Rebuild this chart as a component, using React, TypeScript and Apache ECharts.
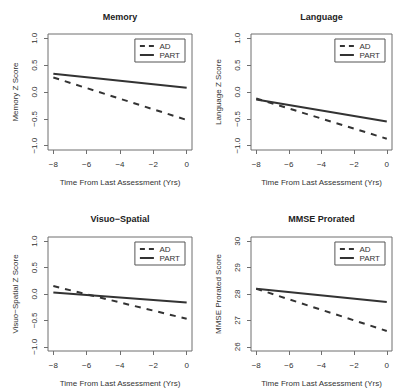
import React, { useEffect, useRef } from "react";
import * as echarts from "echarts";

const years = [-8, 0];
const xTicks = [-8, -6, -4, -2, 0];
const zTicks = [-1, -0.5, 0, 0.5, 1];
const mmseTicks = [26, 27, 28, 29, 30];

const panelTitles = ["Memory", "Language", "Visuo\u2212Spatial", "MMSE Prorated"];
const yTitles = ["Memory Z Score", "Language Z Score", "Visuo\u2212Spatial Z Score", "MMSE Prorated Score"];
const xTitle = "Time From Last Assessment (Yrs)";
const groups = ["AD", "PART"];

const memoryAD = [0.27, -0.52];
const memoryPART = [0.34, 0.08];
const languageAD = [-0.12, -0.87];
const languagePART = [-0.14, -0.55];
const visuoAD = [0.15, -0.47];
const visuoPART = [0.03, -0.16];
const mmseAD = [28.2, 26.6];
const mmsePART = [28.2, 27.7];

const panelAD = [memoryAD, languageAD, visuoAD, mmseAD];
const panelPART = [memoryPART, languagePART, visuoPART, mmsePART];
const panelYTicks = [zTicks, zTicks, zTicks, mmseTicks];

const TEXT = "#333";
const LINE = "#333";
const FRAME = "#6f6f6f";
const FONT = "Liberation Sans, Arial, sans-serif";

const grids = [
  { left: 48, top: 34, width: 144, height: 116 },
  { left: 251, top: 34, width: 141, height: 116 },
  { left: 48, top: 237, width: 144, height: 114 },
  { left: 251, top: 237, width: 141, height: 114 },
];

const dashedIcon = "path://M0,0h5v2h-5zM9,0h5v2h-5z";
const solidIcon = "path://M0,0h14v2h-14z";

const fmtMinus = (v: number, digits: number) => {
  const s = v.toFixed(digits);
  return s.replace("-", "\u2212");
};

function pad(ticks: number[]) {
  const lo = ticks[0];
  const hi = ticks[ticks.length - 1];
  const ext = (hi - lo) * 0.04;
  return [lo - ext, hi + ext];
}

export default function App() {
  const ref = useRef<HTMLDivElement>(null);
  useEffect(() => {
    if (!ref.current) return;
    const chart = echarts.init(ref.current, undefined, { renderer: "svg" });
    const [xMin, xMax] = pad(xTicks);

    const option: any = {
      animation: false,
      backgroundColor: "#fff",
      textStyle: { fontFamily: FONT, color: TEXT },
      title: grids.map((g, i) => ({
        text: panelTitles[i],
        left: g.left + g.width / 2,
        top: i < 2 ? 12 : 214,
        textAlign: "center",
        padding: 0,
        textStyle: { fontSize: 9, fontWeight: "bold", color: "#222", fontFamily: FONT },
      })),
      grid: grids.map((g) => ({
        ...g,
        show: true,
        borderColor: FRAME,
        borderWidth: 1,
        backgroundColor: "transparent",
        containLabel: false,
      })),
      legend: grids.map((g) => ({
        data: [
          { name: groups[0], icon: dashedIcon },
          { name: groups[1], icon: solidIcon },
        ],
        orient: "vertical",
        right: 393 - (g.left + g.width) + 7,
        top: g.top + 5,
        itemWidth: 15,
        itemHeight: 2,
        itemGap: 1,
        padding: [3, 5, 3, 5],
        borderColor: "#555",
        borderWidth: 1,
        borderRadius: 0,
        backgroundColor: "#fff",
        itemStyle: { color: LINE, borderWidth: 0 },
        textStyle: { fontSize: 8, color: TEXT, fontFamily: FONT },
        selectedMode: false,
      })),
      xAxis: grids.map((g, i) => ({
        type: "value",
        gridIndex: i,
        min: xMin,
        max: xMax,
        axisLine: { show: false, onZero: false },
        axisTick: {
          show: true,
          customValues: xTicks,
          length: 4,
          lineStyle: { color: FRAME },
        },
        axisLabel: {
          customValues: xTicks,
          fontSize: 8,
          margin: 10,
          color: TEXT,
          fontFamily: FONT,
          formatter: (v: number) => fmtMinus(v, 0),
        },
        splitLine: { show: false },
        name: xTitle,
        nameLocation: "middle",
        nameGap: 28,
        nameTextStyle: { fontSize: 8, color: TEXT, fontFamily: FONT },
      })),
      yAxis: grids.map((g, i) => {
        const ticks = panelYTicks[i];
        const [lo, hi] = pad(ticks);
        const digits = i < 3 ? 1 : 0;
        return {
          type: "value",
          gridIndex: i,
          min: lo,
          max: hi,
          axisLine: { show: false, onZero: false },
          axisTick: {
            show: true,
            customValues: ticks,
            length: 4,
            lineStyle: { color: FRAME },
          },
          axisLabel: {
            customValues: ticks,
            fontSize: 8,
            margin: 10,
            rotate: 90,
            color: TEXT,
            fontFamily: FONT,
            formatter: (v: number) => fmtMinus(v, digits),
          },
          splitLine: { show: false },
          name: yTitles[i],
          nameLocation: "middle",
          nameGap: 29,
          nameRotate: 90,
          nameTextStyle: { fontSize: 8, color: TEXT, fontFamily: FONT },
        };
      }),
      series: grids.flatMap((g, i) => [
        {
          name: "AD",
          type: "line",
          xAxisIndex: i,
          yAxisIndex: i,
          data: years.map((x, k) => [x, panelAD[i][k]]),
          symbol: "none",
          lineStyle: { color: LINE, width: 2, type: [6, 6] },
          itemStyle: { color: LINE },
        },
        {
          name: "PART",
          type: "line",
          xAxisIndex: i,
          yAxisIndex: i,
          data: years.map((x, k) => [x, panelPART[i][k]]),
          symbol: "none",
          lineStyle: { color: LINE, width: 2, type: "solid" },
          itemStyle: { color: LINE },
        },
      ]),
    };
    chart.setOption(option);
    return () => chart.dispose();
  }, []);

  return (
    <div
      ref={ref}
      style={{ position: "absolute", left: 0, top: 0, width: 393, height: 389 }}
    />
  );
}
